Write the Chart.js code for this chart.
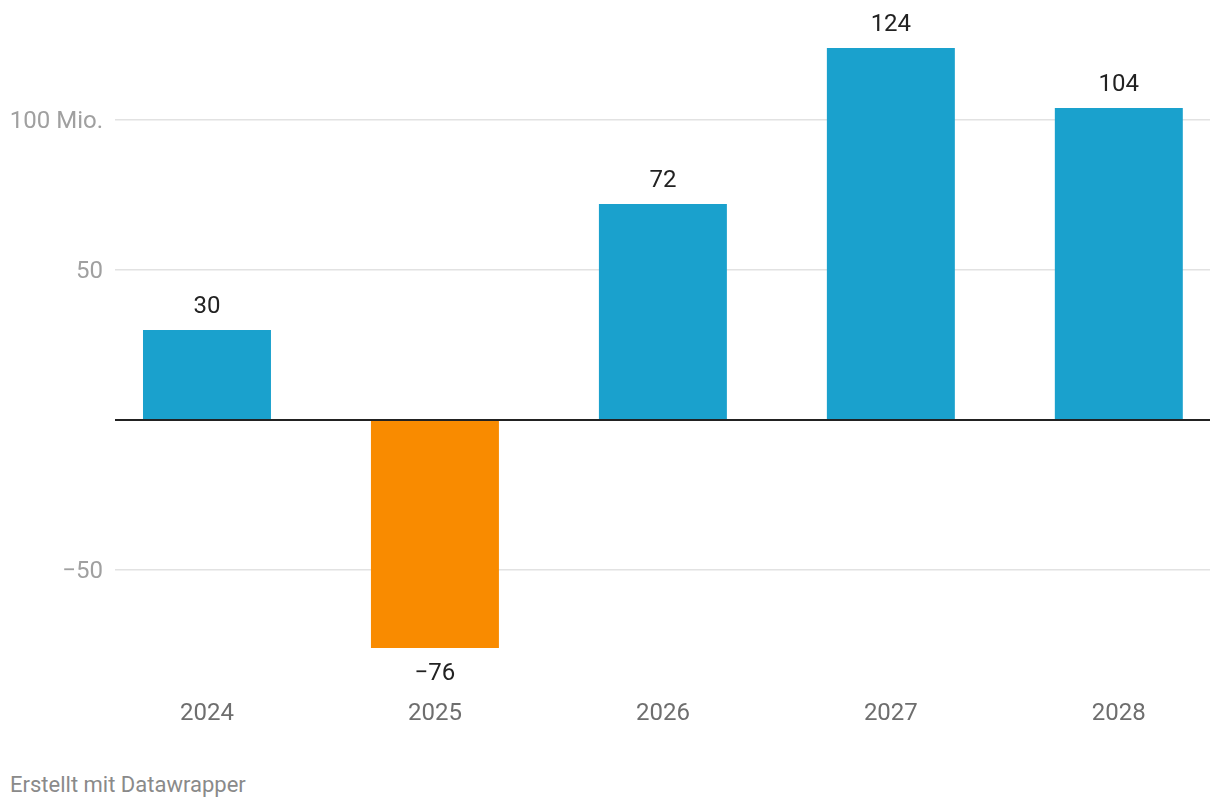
<!DOCTYPE html>
<html>
<head>
<meta charset="utf-8">
<script src="https://cdn.jsdelivr.net/npm/chart.js@4.4.1/dist/chart.umd.min.js"></script>
<style>
  html, body { margin: 0; padding: 0; background: #fff; }
  #wrap { position: relative; width: 1220px; height: 740px; }
  #footer { position: absolute; left: 10px; top: 772px; font-family: Roboto, sans-serif; font-size: 22px; color: #8a8a8a; }
</style>
</head>
<body>
<div id="wrap"><canvas id="c"></canvas></div>
<div id="footer">Erstellt mit Datawrapper</div>
<script>
const categories = ['2024', '2025', '2026', '2027', '2028'];
const values = [30, -76, 72, 124, 104];
const valueLabels = ['30', '\u221276', '72', '124', '104'];
const yTickValues = [-50, 0, 50, 100];
const yTickLabels = ['\u221250', '', '50', '100 Mio.'];

const BLUE = '#1aa1cd';
const ORANGE = '#f98b00';

const barLabels = {
  id: 'barLabels',
  afterDatasetsDraw(chart) {
    const ctx = chart.ctx;
    const meta = chart.getDatasetMeta(0);
    const ys = chart.scales.y;
    const area = chart.chartArea;
    ctx.save();
    // zero baseline on top of bars
    const y0 = Math.round(ys.getPixelForValue(0));
    ctx.strokeStyle = '#222';
    ctx.lineWidth = 2;
    ctx.beginPath();
    ctx.moveTo(area.left, y0);
    ctx.lineTo(area.right, y0);
    ctx.stroke();
    ctx.font = '24px Roboto, sans-serif';
    ctx.fillStyle = '#222';
    ctx.textAlign = 'center';
    ctx.textBaseline = 'middle';
    meta.data.forEach((bar, i) => {
      const v = values[i];
      const y = v >= 0 ? bar.y - 23 : bar.y + 26;
      ctx.fillText(valueLabels[i], bar.x, y);
    });
    ctx.restore();
  }
};

new Chart(document.getElementById('c'), {
  type: 'bar',
  data: {
    datasets: [{
      data: values.map((v, i) => ({ x: i, y: v })),
      backgroundColor: values.map(v => v >= 0 ? BLUE : ORANGE),
      borderWidth: 0,
      categoryPercentage: 1,
      barPercentage: 0.5614
    }]
  },
  options: {
    responsive: true,
    maintainAspectRatio: false,
    animation: false,
    layout: { padding: { top: 45, right: 10, bottom: 0, left: 0 } },
    plugins: { legend: { display: false }, tooltip: { enabled: false } },
    scales: {
      x: {
        type: 'linear',
        min: -0.4035,
        max: 4.4,
        offset: false,
        grid: { display: false, drawTicks: false },
        border: { display: false },
        afterBuildTicks(scale) { scale.ticks = categories.map((c, i) => ({ value: i })); },
        afterFit(scale) { scale.height = 80; },
        ticks: {
          padding: 40,
          color: '#6e6e6e',
          font: { family: 'Roboto, sans-serif', size: 24 },
          callback: (v) => categories[v] ?? ''
        }
      },
      y: {
        min: -80,
        max: 125,
        grid: {
          drawTicks: false,
          color: (c) => c.tick && c.tick.value === 0 ? 'rgba(0,0,0,0)' : '#e2e2e2',
          lineWidth: 1.5
        },
        border: { display: false },
        afterBuildTicks(scale) { scale.ticks = yTickValues.map(v => ({ value: v })); },
        afterFit(scale) { scale.width = 115; },
        ticks: {
          padding: 12,
          labelOffset: 2,
          color: '#a0a0a0',
          font: { family: 'Roboto, sans-serif', size: 24 },
          callback: (v) => { const i = yTickValues.indexOf(v); return i >= 0 ? yTickLabels[i] : ''; }
        }
      }
    }
  },
  plugins: [barLabels]
});
</script>
</body>
</html>
